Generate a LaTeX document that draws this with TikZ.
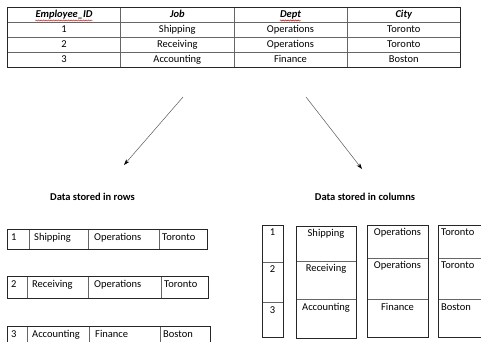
\documentclass[tikz,border=0pt]{standalone}
\usepackage{fontspec}
\setmainfont{Carlito}
\usetikzlibrary{arrows.meta,decorations.pathmorphing}

\begin{document}
\begin{tikzpicture}[x=1pt,y=-1pt,
  txt/.style={inner sep=0pt,text height=7.5pt,text depth=2.5pt,font=\fontsize{10.5}{12}\selectfont},
  hd/.style={txt,font=\fontsize{10.5}{12}\selectfont\bfseries\itshape},
  lbl/.style={inner sep=0pt,font=\fontsize{10.5}{12}\selectfont\bfseries},
  grid/.style={draw=black!60,line width=0.6pt},
  frame/.style={draw=black!85,line width=0.8pt},
  squig/.style={draw=red!80!black,line width=0.4pt,decorate,decoration={snake,amplitude=0.6pt,segment length=2.5pt}},
  arr/.style={draw=black!65,line width=0.5pt,-{Stealth[length=6pt,width=4pt,black]}}]
\useasboundingbox (0,0) rectangle (481,341);

% original table
\draw[grid] (120.7,7.3) -- (120.7,67.7) (234,7.3) -- (234,67.7) (347,7.3) -- (347,67.7);
\foreach \y in {22.3,37.3,52.3} \draw[grid] (7.3,\y) -- (460.7,\y);
\draw[frame] (7.3,7.3) rectangle (460.7,67.7);
\node[hd] (h1) at (64,14.8) {Employee\_ID};
\node[hd] (h2) at (177.3,14.8) {Job};
\node[hd] (h3) at (290.5,14.8) {Dept};
\node[hd] (h4) at (403.8,14.8) {City};
\draw[squig] ([yshift=-0.5pt]h1.south west) -- ([yshift=-0.5pt]h1.south east);
\draw[squig] ([yshift=-0.5pt]h3.south west) -- ([yshift=-0.5pt]h3.south east);
\foreach \n/\j/\d/\c [count=\i] in {1/Shipping/Operations/Toronto,2/Receiving/Operations/Toronto,3/Accounting/Finance/Boston}{
  \pgfmathsetmacro\yy{14.8+15*\i}
  \node[txt] (id\i) at (64,\yy) {\n};
  \node[txt] (job\i) at (177.3,\yy) {\j};
  \node[txt] (dept\i) at (290.5,\yy) {\d};
  \node[txt] (city\i) at (403.8,\yy) {\c};
}

% arrows
\coordinate (rowsfrom) at (183,97);
\coordinate (rowsto) at (124,165);
\coordinate (colsfrom) at (306,97);
\coordinate (colsto) at (362,169);
\draw[arr] (rowsfrom) -- (rowsto);
\draw[arr] (colsfrom) -- (colsto);
\node[lbl] (rowslbl) at (92.5,197) {Data stored in rows};
\node[lbl] (colslbl) at (365,197) {Data stored in columns};

% row store
\foreach \t/\b/\xa/\xb/\xc/\xd/\n/\j/\d/\c [count=\i] in {
  229/249/29/88/159/207/1/Shipping/Operations/Toronto,
  276/298/27/88/161/208/2/Receiving/Operations/Toronto,
  326/360/27/89/160/210/3/Accounting/Finance/Boston}{
  \draw[grid] (\xa,\t) -- (\xa,\b) (\xb,\t) -- (\xb,\b) (\xc,\t) -- (\xc,\b);
  \draw[frame] (7,\t) rectangle (\xd,\b);
  \pgfmathsetmacro\yy{\t+8.5}
  \node[txt,anchor=west] (rid\i) at (11,\yy) {\n};
  \node[txt,anchor=west] (rjob\i) at (\xa+5,\yy) {\j};
  \node[txt,anchor=west] (rdept\i) at (\xb+6,\yy) {\d};
  \node[txt,anchor=west] (rcity\i) at (\xc+3,\yy) {\c};
}

% column store
\foreach \l/\r/\t/\ya/\yb/\b/\aa/\bb/\cc [count=\k] in {
  262/283/225/262/302/337/1/2/3,
  296/356/226/261/299/338/Shipping/Receiving/Accounting,
  367/428/225/258/299/337/Operations/Operations/Finance,
  438/500/225/258/299/337/Toronto/Toronto/Boston}{
  \draw[grid] (\l,\ya) -- (\r,\ya) (\l,\yb) -- (\r,\yb);
  \draw[frame] (\l,\t) rectangle (\r,\b);
  \ifnum\k=4 \def\xx{441}\def\an{west}\else\pgfmathsetmacro\xx{(\l+\r)/2}\def\an{center}\fi
  \node[txt,anchor=\an] (c\k a) at (\xx,\t+8) {\aa};
  \node[txt,anchor=\an] (c\k b) at (\xx,\ya+8) {\bb};
  \node[txt,anchor=\an] (c\k c) at (\xx,\yb+9) {\cc};
}
\end{tikzpicture}
\end{document}
